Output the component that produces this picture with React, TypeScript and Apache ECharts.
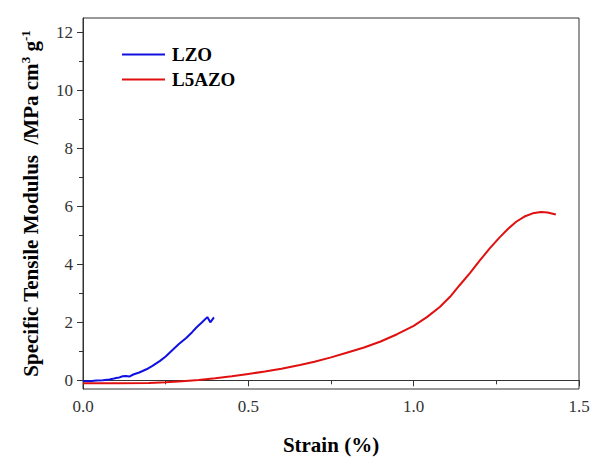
import React, { useEffect, useRef } from "react";
import * as echarts from "echarts";

const lzoData: [number, number][] = [
  [0, -0.02], [0.02, -0.03], [0.04, -0.01], [0.06, 0.0], [0.08, 0.03], [0.09, 0.05],
  [0.1, 0.08], [0.11, 0.1], [0.12, 0.14], [0.13, 0.15], [0.14, 0.13], [0.152, 0.2],
  [0.17, 0.27], [0.192, 0.38], [0.21, 0.5], [0.233, 0.67], [0.25, 0.82], [0.273, 1.07],
  [0.29, 1.25], [0.313, 1.47], [0.33, 1.66], [0.343, 1.82], [0.36, 2.0], [0.376, 2.18],
  [0.385, 2.0], [0.396, 2.17],
];

const l5azoData: [number, number][] = [
  [0, -0.1], [0.1, -0.1], [0.2, -0.09], [0.25, -0.07], [0.3, -0.03], [0.35, 0.01],
  [0.4, 0.07], [0.45, 0.14], [0.5, 0.22], [0.55, 0.3], [0.6, 0.4], [0.656, 0.53],
  [0.7, 0.64], [0.75, 0.79], [0.8, 0.96], [0.85, 1.13], [0.9, 1.34], [0.95, 1.59],
  [1.0, 1.88], [1.04, 2.18], [1.079, 2.53], [1.11, 2.88], [1.139, 3.28], [1.17, 3.7],
  [1.199, 4.12], [1.23, 4.55], [1.26, 4.93], [1.285, 5.22], [1.31, 5.47], [1.335, 5.65],
  [1.36, 5.76], [1.385, 5.81], [1.405, 5.79], [1.43, 5.72],
];

const xMinorTicks = [0.25, 0.75, 1.25];
const yMajorTicks = [0, 2, 4, 6, 8, 10, 12];
const yMinorTicks = [1, 3, 5, 7, 9, 11];
const seriesNames = ["LZO", "L5AZO"];

const FONT = "'Times New Roman', Times, 'Liberation Serif', 'DejaVu Serif', serif";

export default function App() {
  const ref = useRef<HTMLDivElement>(null);
  useEffect(() => {
    if (!ref.current) return;
    const chart = echarts.init(ref.current, undefined, { renderer: "svg" });
    chart.setOption({
      animation: false,
      backgroundColor: "#fff",
      textStyle: { fontFamily: FONT },
      grid: {
        left: 83, right: 16, top: 18, bottom: 68,
        outerBoundsMode: "none",
        containLabel: false,
        show: true, borderColor: "#333", borderWidth: 1, backgroundColor: "transparent",
      },
      legend: {
        orient: "vertical",
        left: 117,
        top: 40,
        icon: "rect",
        itemWidth: 43,
        itemHeight: 2,
        itemGap: 6,
        data: seriesNames,
        textStyle: { fontFamily: FONT, fontSize: 19, fontWeight: "bold", color: "#000", padding: [0, 0, 0, 2] },
      },
      xAxis: [
        {
          type: "value",
          min: 0, max: 1.5, interval: 0.5,
          name: "Strain (%)",
          nameLocation: "middle",
          nameGap: 45,
          nameTextStyle: { fontFamily: FONT, fontSize: 21, fontWeight: "bold", color: "#000" },
          axisLine: { show: true, lineStyle: { color: "#333", width: 1 } },
          axisTick: { show: true, inside: false, length: 6, lineStyle: { color: "#333" } },
          splitLine: { show: false },
          axisLabel: {
            fontFamily: FONT, fontSize: 17, color: "#333", margin: 9,
            formatter: (v: number) => v.toFixed(1),
          },
        },
        {
          type: "value",
          min: 0, max: 1.5,
          position: "bottom",
          axisLine: { show: false },
          axisTick: { show: true, inside: false, length: 4, customValues: xMinorTicks, lineStyle: { color: "#333" } },
          splitLine: { show: false },
          axisLabel: { show: false },
        },
      ],
      yAxis: [
        {
          type: "value",
          min: -0.3, max: 12.5,
          name: "{b|Specific Tensile Modulus  /MPa cm}{s|3}{b| g}{s|-1}",
          nameLocation: "middle",
          nameGap: 40,
          nameRotate: 90,
          nameTextStyle: {
            rich: {
              b: { fontFamily: FONT, fontSize: 21, fontWeight: "bold", color: "#000", lineHeight: 24 },
              s: { fontFamily: FONT, fontSize: 13, fontWeight: "bold", color: "#000", lineHeight: 24, padding: [0, 0, 12, 0] },
            },
          },
          axisLine: { show: true, lineStyle: { color: "#333", width: 1 } },
          axisTick: { show: true, inside: false, length: 6, customValues: yMajorTicks, lineStyle: { color: "#333" } },
          splitLine: { show: false },
          axisLabel: { fontFamily: FONT, fontSize: 17, color: "#333", margin: 10, customValues: yMajorTicks },
        },
        {
          type: "value",
          min: -0.3, max: 12.5,
          position: "left",
          axisLine: { show: false },
          axisTick: { show: true, inside: false, length: 4, customValues: yMinorTicks, lineStyle: { color: "#333" } },
          splitLine: { show: false },
          axisLabel: { show: false },
        },
      ],
      series: [
        {
          name: seriesNames[0], type: "line", data: lzoData, symbol: "none",
          lineStyle: { color: "#1010e0", width: 2 }, itemStyle: { color: "#1010e0" },
        },
        {
          name: seriesNames[1], type: "line", data: l5azoData, symbol: "none",
          lineStyle: { color: "#e01010", width: 2 }, itemStyle: { color: "#e01010" },
        },
      ],
    });
    return () => chart.dispose();
  }, []);
  return <div ref={ref} style={{ width: 595, height: 457, position: "absolute", left: 0, top: 0 }} />;
}
